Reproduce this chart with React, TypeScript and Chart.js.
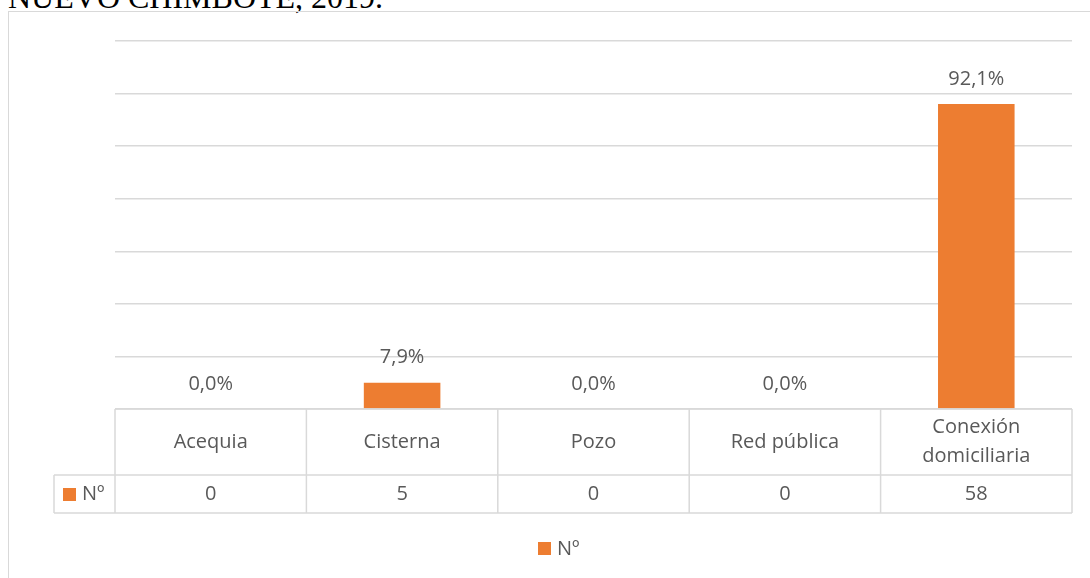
import React, { useEffect, useRef } from "react";
import { Chart, registerables } from "chart.js";

Chart.register(...registerables);

const categories: (string | string[])[] = ["Acequia", "Cisterna", "Pozo", "Red pública", ["Conexión", "domiciliaria"]];
const counts = [0, 5, 0, 0, 58];
const percents = [0.0, 7.9, 0.0, 0.0, 92.1];
const seriesName = "Nº";
const titleText = "NUEVO CHIMBOTE, 2019.";

const ORANGE = "#ED7D31";
const GRID = "#d9d9d9";
const TEXT = "#595959";
const FONT = "'Open Sans', 'Noto Sans', sans-serif";

const fmtPct = (v: number) => v.toFixed(1).replace(".", ",") + "%";

const tablePlugin = {
  id: "dataTable",
  afterDraw(chart: any) {
    const ctx = chart.ctx as CanvasRenderingContext2D;
    const x = chart.scales.x;
    const area = chart.chartArea;
    const n = categories.length;
    const colW = (area.right - area.left) / n;
    const top = area.bottom;
    const mid = top + 66;
    const bot = mid + 38;
    const keyLeft = 54;

    ctx.save();
    // data labels
    const meta = chart.getDatasetMeta(0);
    ctx.fillStyle = TEXT;
    ctx.font = `20px ${FONT}`;
    ctx.textAlign = "center";
    ctx.textBaseline = "middle";
    meta.data.forEach((bar: any, i: number) => {
      ctx.fillText(fmtPct(percents[i]), bar.x, bar.y - 25);
    });

    // grid lines of table
    ctx.strokeStyle = GRID;
    ctx.lineWidth = 1.5;
    ctx.beginPath();
    ctx.moveTo(area.left, top);
    ctx.lineTo(area.right, top);
    ctx.moveTo(keyLeft, mid);
    ctx.lineTo(area.right, mid);
    ctx.moveTo(keyLeft, bot);
    ctx.lineTo(area.right, bot);
    ctx.moveTo(keyLeft, mid);
    ctx.lineTo(keyLeft, bot);
    for (let i = 0; i <= n; i++) {
      const px = i < n ? x.getPixelForValue(i) - colW / 2 : x.getPixelForValue(n - 1) + colW / 2;
      ctx.moveTo(px, top);
      ctx.lineTo(px, bot);
    }
    ctx.stroke();

    // texts
    ctx.fillStyle = TEXT;
    ctx.font = `20px ${FONT}`;
    ctx.textAlign = "center";
    ctx.textBaseline = "middle";
    categories.forEach((c, i) => {
      const cx = x.getPixelForValue(i);
      const lines = Array.isArray(c) ? c : [c];
      const lh = 29;
      const cy = (top + mid) / 2 - ((lines.length - 1) * lh) / 2;
      lines.forEach((l, j) => ctx.fillText(l, cx, cy + j * lh));
      ctx.fillText(String(counts[i]), cx, (mid + bot) / 2);
    });

    // key in table
    ctx.fillStyle = ORANGE;
    ctx.fillRect(63, (mid + bot) / 2 - 6, 13, 13);
    ctx.fillStyle = TEXT;
    ctx.textAlign = "left";
    ctx.fillText(seriesName, 82, (mid + bot) / 2);

    // bottom legend
    ctx.fillStyle = ORANGE;
    ctx.fillRect(538, 542, 13, 13);
    ctx.fillStyle = TEXT;
    ctx.fillText(seriesName, 557, 549);
    ctx.restore();
  },
};

export default function App() {
  const ref = useRef<HTMLCanvasElement>(null);
  useEffect(() => {
    if (!ref.current) return;
    const chart = new Chart(ref.current, {
      type: "bar",
      data: {
        labels: categories as any,
        datasets: [
          {
            label: seriesName,
            data: counts,
            backgroundColor: ORANGE,
            categoryPercentage: 1,
            barPercentage: 0.4,
          },
        ],
      },
      options: {
        animation: false,
        responsive: false,
        layout: { padding: { left: 115, right: 18, top: 41, bottom: 169 } },
        plugins: { legend: { display: false }, tooltip: { enabled: false }, title: { display: false } },
        scales: {
          x: { display: false, grid: { display: false } },
          y: {
            min: 0,
            max: 70,
            ticks: { display: false, stepSize: 10, padding: 0 },
            grid: { color: GRID, lineWidth: 1.5, drawTicks: false },
            border: { display: false },
          },
        },
      },
      plugins: [tablePlugin],
    });
    return () => chart.destroy();
  }, []);

  return (
    <div style={{ position: "fixed", left: 0, top: 0, width: 1090, height: 578, overflow: "hidden", background: "#fff" }}>
      <div
        style={{
          position: "absolute",
          left: 8,
          top: -21,
          fontFamily: "'Liberation Serif', 'Times New Roman', serif",
          fontSize: 32,
          lineHeight: "36px",
          color: "#000",
          whiteSpace: "nowrap",
        }}
      >
        {titleText}
      </div>
      <div
        style={{
          position: "absolute",
          left: 8,
          top: 11,
          width: 1200,
          height: 700,
          border: "1.5px solid #d9d9d9",
          boxSizing: "border-box",
        }}
      />
      <canvas ref={ref} width={1090} height={578} style={{ position: "absolute", left: 0, top: 0 }} />
    </div>
  );
}
